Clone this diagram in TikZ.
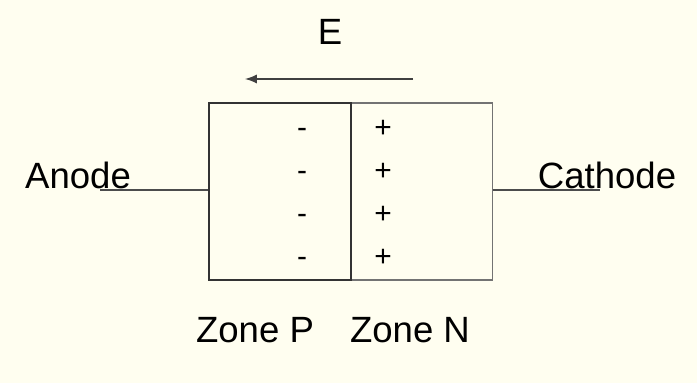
\documentclass[tikz,border=0pt]{standalone}
\usepackage{fontspec}
\setmainfont{Liberation Sans}
\usepackage{tikz}
\usetikzlibrary{positioning}

\begin{document}
\begin{tikzpicture}[font=\fontsize{20.8}{24}\selectfont]
      \fill[yellow!6] (0,0) rectangle (13.94,-7.66);
      \useasboundingbox (0,0) rectangle (13.94,-7.66);
      % the two zones of the junction
      \node[draw=black!55,line width=0.6pt,minimum width=2.83cm,minimum height=3.54cm,inner sep=0pt] (zoneN) at (8.43,-3.83) {};
      \node[draw=black!80,line width=1.1pt,minimum width=2.84cm,minimum height=3.54cm,inner sep=0pt] (zoneP) at (5.6,-3.83) {};
      % charges
      \foreach \y in {-2.58,-3.44,-4.3,-5.16} {
        \draw (6.04,\y-0.07) node {\fontsize{17}{20}\selectfont -};
        \draw (7.66,\y) node {\fontsize{17}{20}\selectfont +};
      }
      % leads
      \coordinate (a) at (2.0,-3.8);
      \coordinate (k) at (12.0,-3.8);
      \draw[black!70,line width=1.1pt] (a) -- (zoneP.west |- a);
      \draw[black!70,line width=1.1pt] (zoneN.east |- k) -- (k);
      \node (anode) at (1.56,-3.5) {Anode};
      \node (cathode) at (12.14,-3.5) {Cathode};
      % field
      \coordinate (e1) at (8.26,-1.58);
      \coordinate (e2) at (4.9,-1.58);
      \draw[->,>=latex,black!75,line width=1.3pt] (e1) -- (e2);
      \node (E) at (6.6,-0.64) {E};
      \node (labelP) at (5.1,-6.6) {Zone P};
      \node (labelN) at (8.2,-6.6) {Zone N};
\end{tikzpicture}
\end{document}
